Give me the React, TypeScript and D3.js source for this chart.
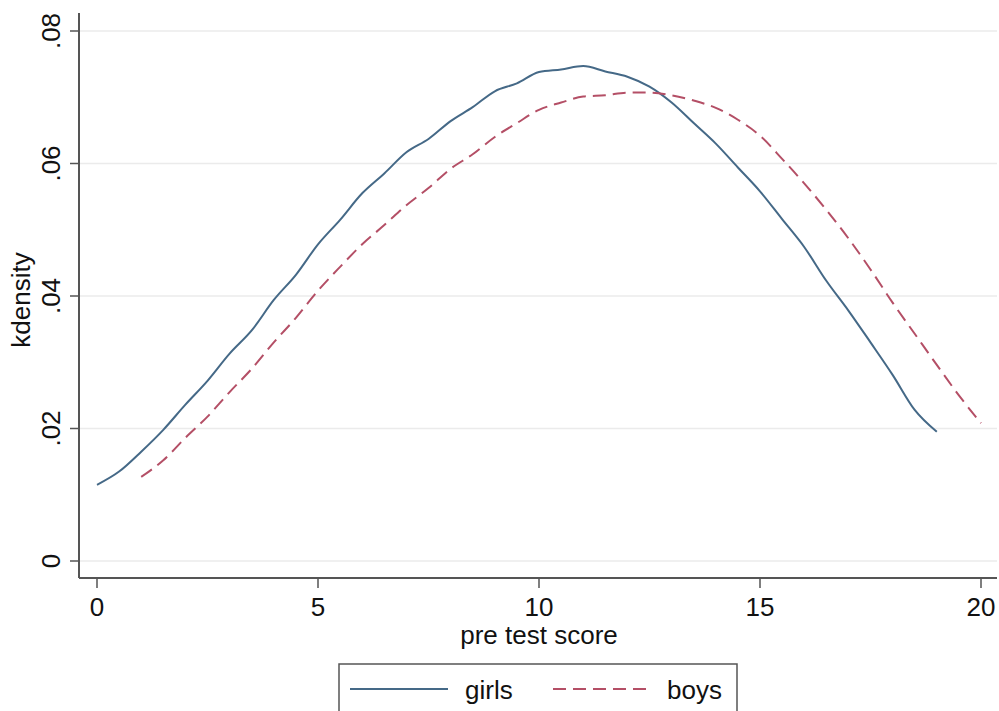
import React from "react";
import * as d3 from "d3";

const girlsX = [0,0.5,1,1.5,2,2.5,3,3.5,4,4.5,5,5.5,6,6.5,7,7.5,8,8.5,9,9.5,10,10.5,11,11.5,12,12.5,13,13.5,14,14.5,15,15.5,16,16.5,17,17.5,18,18.5,19];
const girlsY = [0.0115,0.0135,0.0165,0.0198,0.0236,0.0272,0.0313,0.0348,0.0394,0.0432,0.0478,0.0515,0.0555,0.0585,0.0617,0.0637,0.0664,0.0685,0.0709,0.0721,0.0738,0.0742,0.0747,0.0739,0.0731,0.0716,0.0692,0.0661,0.0630,0.0594,0.0558,0.0516,0.0474,0.0423,0.0378,0.0330,0.0281,0.0228,0.0195];
const boysX = [1,1.5,2,2.5,3,3.5,4,4.5,5,5.5,6,6.5,7,7.5,8,8.5,9,9.5,10,10.5,11,11.5,12,12.5,13,13.5,14,14.5,15,15.5,16,16.5,17,17.5,18,18.5,19,19.5,20];
const boysY = [0.0127,0.0152,0.0186,0.0218,0.0255,0.0290,0.0330,0.0367,0.0408,0.0444,0.0478,0.0507,0.0537,0.0563,0.0592,0.0614,0.0640,0.0661,0.0681,0.0692,0.0701,0.0703,0.0707,0.0707,0.0703,0.0695,0.0684,0.0666,0.0642,0.0607,0.0570,0.0530,0.0487,0.0440,0.0390,0.0343,0.0296,0.0250,0.0208];
const xTicks = [0, 5, 10, 15, 20];
const yTicks = [0, 0.02, 0.04, 0.06, 0.08];
const yTickLabels = ["0", ".02", ".04", ".06", ".08"];
const seriesNames = ["girls", "boys"];

const FONT = "'Liberation Sans', Arial, Helvetica, sans-serif";

export default function App() {
  const W = 999, H = 711;
  const left = 79, right = 997, top = 13, bottom = 578;
  const x = d3.scaleLinear().domain([0, 20]).range([97, 981]);
  const y = d3.scaleLinear().domain([0, 0.08]).range([561, 31]);
  const line = d3.line<[number, number]>().x(d => x(d[0])).y(d => y(d[1])).curve(d3.curveMonotoneX);
  const girls = girlsX.map((v, i) => [v, girlsY[i]] as [number, number]);
  const boys = boysX.map((v, i) => [v, boysY[i]] as [number, number]);
  const girlsColor = "#456987";
  const boysColor = "#b44f66";
  const fs = 26;
  return (
    <svg width={W} height={H} style={{ position: "absolute", left: 0, top: 0, background: "#fff" }} fontFamily={FONT}>
      <rect x={0} y={0} width={W} height={H} fill="#fff" />
      {yTicks.map((t, i) => (
        <line key={"g" + i} x1={left} x2={right} y1={y(t)} y2={y(t)} stroke="#ebebeb" strokeWidth={1.5} />
      ))}
      <path d={line(girls) || ""} fill="none" stroke={girlsColor} strokeWidth={2} />
      <path d={line(boys) || ""} fill="none" stroke={boysColor} strokeWidth={2} strokeDasharray="13 7" />
      <line x1={left} x2={left} y1={top} y2={bottom} stroke="#555" strokeWidth={2} />
      <line x1={left} x2={right} y1={bottom} y2={bottom} stroke="#555" strokeWidth={2} />
      {yTicks.map((t, i) => (
        <g key={"yt" + i}>
          <line x1={left - 9} x2={left} y1={y(t)} y2={y(t)} stroke="#555" strokeWidth={1.5} />
          <text transform={`translate(60,${y(t)}) rotate(-90)`} textAnchor="middle" fontSize={fs} fill="#111">{yTickLabels[i]}</text>
        </g>
      ))}
      {xTicks.map((t, i) => (
        <g key={"xt" + i}>
          <line x1={x(t)} x2={x(t)} y1={bottom} y2={bottom + 10} stroke="#555" strokeWidth={1.5} />
          <text x={x(t)} y={616} textAnchor="middle" fontSize={fs} fill="#111">{String(t)}</text>
        </g>
      ))}
      <text x={539} y={644} textAnchor="middle" fontSize={fs} fill="#111">pre test score</text>
      <text transform={`translate(30,300) rotate(-90)`} textAnchor="middle" fontSize={fs} fill="#111">kdensity</text>
      <rect x={339} y={664} width={398} height={60} fill="#fff" stroke="#555" strokeWidth={1.5} />
      <line x1={350} x2={448} y1={689} y2={689} stroke={girlsColor} strokeWidth={2} />
      <text x={465} y={699} fontSize={fs} fill="#111">{seriesNames[0]}</text>
      <line x1={553} x2={652} y1={689} y2={689} stroke={boysColor} strokeWidth={2} strokeDasharray="13 7" />
      <text x={667} y={699} fontSize={fs} fill="#111">{seriesNames[1]}</text>
    </svg>
  );
}
